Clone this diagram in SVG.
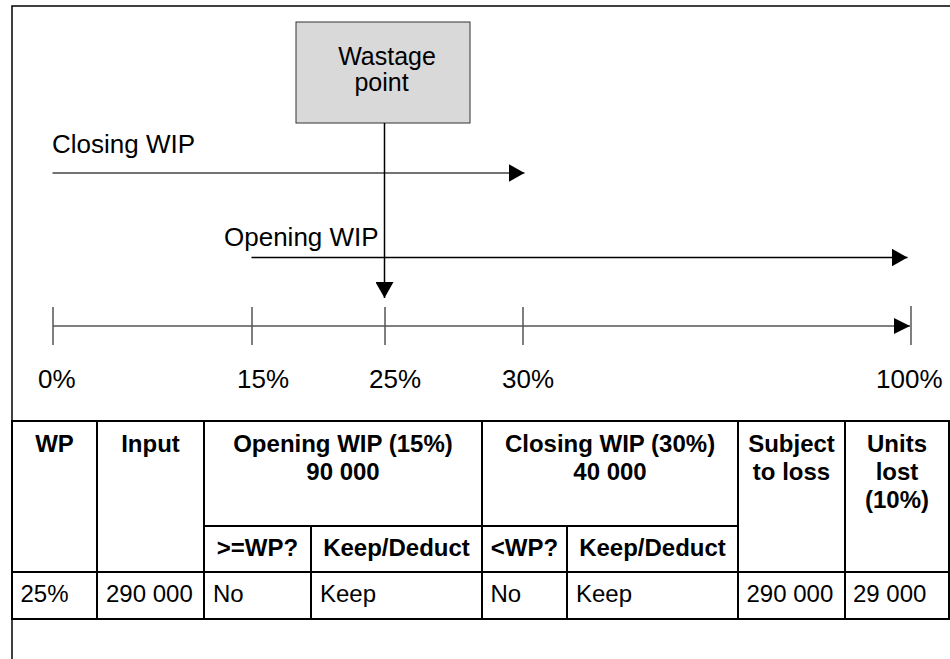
<svg xmlns="http://www.w3.org/2000/svg" width="950" height="659" viewBox="0 0 950 659">
<style>
text{font-family:"Liberation Sans",Arial,sans-serif;fill:#000}
.lbl{font-size:26px}
.wp{font-size:25px;text-anchor:middle}
.th{font-size:24px;font-weight:bold;text-anchor:middle}
.td{font-size:24px}
.tl{stroke:#000;stroke-width:2;fill:none}
.ax{stroke:#555;stroke-width:1.5;fill:none}
</style>
<defs>
<marker id="ah" markerWidth="16" markerHeight="18" refX="16" refY="9" orient="auto" markerUnits="userSpaceOnUse">
<path d="M0,0 L16,9 L0,18 Z" fill="#000"/>
</marker>
</defs>
<rect width="950" height="659" fill="#fff"/>
<g id="frame">
<path d="M12,659 V6 H950" fill="none" stroke="#000" stroke-width="1.5"/>
</g>
<g id="wastage-point">
<rect x="296" y="22" width="174" height="101" fill="#d9d9d9" stroke="#333" stroke-width="1"/>
<text class="wp" x="387" y="64.5">Wastage</text>
<text class="wp" x="381.5" y="90.5">point</text>
</g>
<g id="closing-wip-label"><text class="lbl" x="52" y="153">Closing WIP</text></g>
<g id="opening-wip-label"><text class="lbl" x="224" y="246">Opening WIP</text></g>
<g id="axis">
<line class="ax" x1="53" y1="326" x2="910" y2="326"/>
<line class="ax" x1="53" y1="307" x2="53" y2="345"/>
<line class="ax" x1="252" y1="307" x2="252" y2="345"/>
<line class="ax" x1="385" y1="307" x2="385" y2="345"/>
<line class="ax" x1="523" y1="307" x2="523" y2="345"/>
<line class="ax" x1="911" y1="306" x2="911" y2="345"/>
<text class="lbl" x="38" y="388">0%</text>
<text class="lbl" x="237" y="388">15%</text>
<text class="lbl" x="369" y="388">25%</text>
<text class="lbl" x="502" y="388">30%</text>
<text class="lbl" x="876" y="388">100%</text>
</g>
<g id="connectors">
<line x1="52.5" y1="173" x2="524.5" y2="173" stroke="#444" stroke-width="1.5" marker-end="url(#ah)"/>
<line x1="251.5" y1="257.5" x2="907.5" y2="257.5" stroke="#000" stroke-width="1.5" marker-end="url(#ah)"/>
<line x1="384.5" y1="123" x2="384.5" y2="298" stroke="#000" stroke-width="1.5" marker-end="url(#ah)"/>
<path d="M894,318 L910,326 L894,334 Z" fill="#000"/>
</g>
<g id="table">
<rect class="tl" x="12" y="421" width="937" height="198"/>
<line class="tl" x1="12" y1="572" x2="949" y2="572"/>
<line class="tl" x1="204" y1="526" x2="738" y2="526"/>
<line class="tl" x1="97" y1="421" x2="97" y2="619"/>
<line class="tl" x1="204" y1="421" x2="204" y2="619"/>
<line class="tl" x1="311" y1="526" x2="311" y2="619"/>
<line class="tl" x1="482" y1="421" x2="482" y2="619"/>
<line class="tl" x1="567" y1="526" x2="567" y2="619"/>
<line class="tl" x1="738" y1="421" x2="738" y2="619"/>
<line class="tl" x1="845" y1="421" x2="845" y2="619"/>
<text class="th" x="54.5" y="452">WP</text>
<text class="th" x="150.5" y="452">Input</text>
<text class="th" x="343" y="452">Opening WIP (15%)</text>
<text class="th" x="343" y="479.5">90 000</text>
<text class="th" x="610" y="452">Closing WIP (30%)</text>
<text class="th" x="610" y="479.5">40 000</text>
<text class="th" x="791.5" y="452">Subject</text>
<text class="th" x="791.5" y="479.5">to loss</text>
<text class="th" x="897" y="452">Units</text>
<text class="th" x="897" y="479.5">lost</text>
<text class="th" x="897" y="507.5">(10%)</text>
<text class="th" x="257.5" y="556">&gt;=WP?</text>
<text class="th" x="396.5" y="556">Keep/Deduct</text>
<text class="th" x="524.5" y="556">&lt;WP?</text>
<text class="th" x="652.5" y="556">Keep/Deduct</text>
<text class="td" x="20.5" y="602">25%</text>
<text class="td" x="106" y="602">290 000</text>
<text class="td" x="213" y="602">No</text>
<text class="td" x="320" y="602">Keep</text>
<text class="td" x="490.5" y="602">No</text>
<text class="td" x="576" y="602">Keep</text>
<text class="td" x="746.5" y="602">290 000</text>
<text class="td" x="853" y="602">29 000</text>
</g>
</svg>
